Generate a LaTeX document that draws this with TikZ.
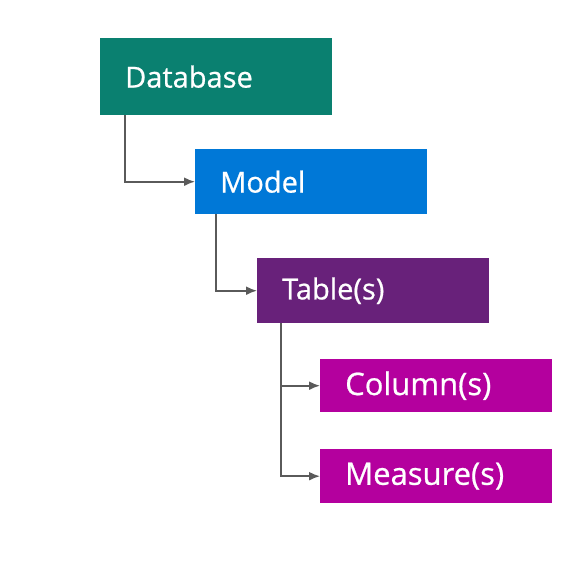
\documentclass[tikz,border=0pt]{standalone}
\usepackage{fontspec}
\setmainfont{Open Sans}
\newfontfamily\boxfont[FakeBold=0.7]{Open Sans}
\usepackage{tikz}
\usetikzlibrary{positioning,arrows.meta}

\definecolor{dbteal}{HTML}{0A8070}
\definecolor{mdblue}{HTML}{0078D7}
\definecolor{tbpurple}{HTML}{68217A}
\definecolor{colmagenta}{HTML}{B4009E}
\definecolor{linkgray}{HTML}{5A5A5A}

\tikzset{
  level/.style={anchor=north west, minimum width=232pt, text width=182pt, inner xsep=25pt,
    align=left, text=white, font=\boxfont\fontsize{29}{33}\selectfont},
  link/.style={draw=linkgray, line width=1.9pt, -{Latex[length=11pt,width=9pt]}}
}

\begin{document}
\begin{tikzpicture}[x=1pt,y=-1pt]
        \useasboundingbox (0,0) rectangle (565,571);

        \node[level, fill=dbteal, minimum height=77pt] (db) at (100,38) {Database};
        \node[level, fill=mdblue, minimum height=65pt] (model) at (195,149) {Model};
        \node[level, fill=tbpurple, minimum height=65pt] (tables) at (257,258) {Table(s)};
        \node[level, fill=colmagenta, minimum height=53pt, font=\boxfont\fontsize{31}{35}\selectfont] (cols) at (320,359) {Column(s)};
        \node[level, fill=colmagenta, minimum height=54pt, font=\boxfont\fontsize{31}{35}\selectfont] (meas) at (320,449) {Measure(s)};

        \draw[link] (db.south west) ++(25,0) |- (model.west);
        \draw[link] (model.south west) ++(21,0) |- (tables.west);
        \draw[link] (tables.south west) ++(24,0) |- (cols.west);
        \draw[link] (tables.south west) ++(24,0) |- (meas.west);
      \end{tikzpicture}
\end{document}
